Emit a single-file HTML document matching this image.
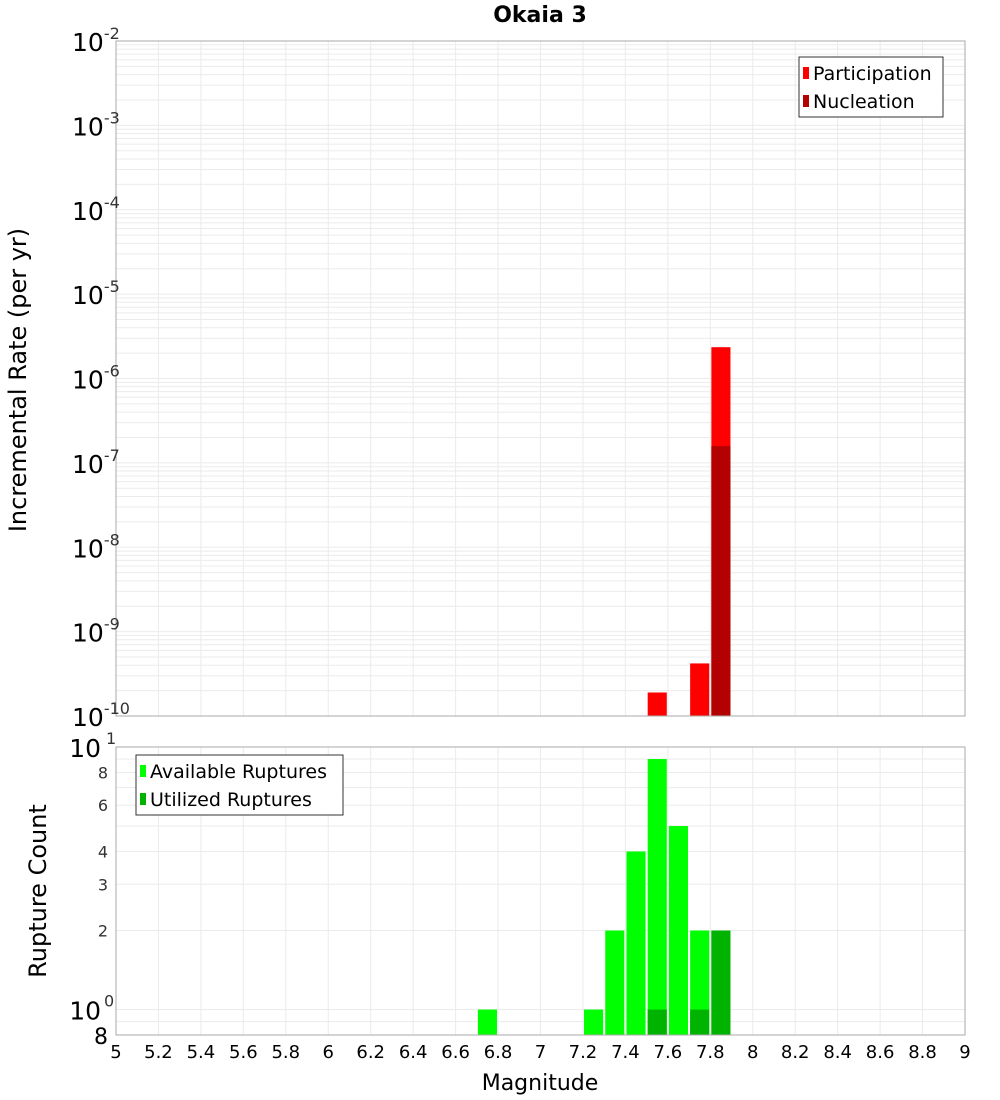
<!DOCTYPE html>
<html><head><meta charset="utf-8"><style>
body{margin:0;background:#fff;font-family:"DejaVu Sans","Liberation Sans",sans-serif}
svg{display:block}
</style></head><body>
<svg id="c" width="1000" height="1100" xmlns="http://www.w3.org/2000/svg"></svg>
<script>
const mags=[6.75,7.25,7.35,7.45,7.55,7.65,7.75,7.85];
const partMags=[7.55,7.75,7.85];
const partVals=[1.9e-10,4.2e-10,2.35e-6];
const nuclMags=[7.85];
const nuclVals=[1.58e-7];
const availVals=[1,1,2,4,9,5,2,2];
const utilMags=[7.55,7.75,7.85];
const utilVals=[1,1,2];
const xTicks=[5,5.2,5.4,5.6,5.8,6,6.2,6.4,6.6,6.8,7,7.2,7.4,7.6,7.8,8,8.2,8.4,8.6,8.8,9];
const topDecades=[-10,-9,-8,-7,-6,-5,-4,-3,-2];
const botMinorLabels=[2,3,4,6,8];

const S=document.getElementById('c');const NS='http://www.w3.org/2000/svg';
function el(t,a,p){const e=document.createElementNS(NS,t);for(const k in a)e.setAttribute(k,a[k]);(p||S).appendChild(e);return e;}
const X0=116,X1=965;
const x=m=>X0+(m-5)/4*(X1-X0);
const T0=41,T1=716;const ty=v=>T0+(-2-Math.log10(v))*(T1-T0)/8;
const B0=747,B1=1035;const by=v=>B0+(1-Math.log10(v))*(B1-B0)/(1-Math.log10(0.8));
const BW=0.09;
const gtop=el('g',{});
const gbot=el('g',{});
xTicks.forEach(t=>{el('line',{x1:x(t),x2:x(t),y1:T0,y2:T1,stroke:'#ebebeb'},gtop);el('line',{x1:x(t),x2:x(t),y1:B0,y2:B1,stroke:'#ebebeb'},gbot);});
for(let d=-10;d<-2;d++)for(let k=1;k<10;k++){const yy=ty(k*Math.pow(10,d));el('line',{x1:X0,x2:X1,y1:yy,y2:yy,stroke:'#ebebeb'},gtop);}
[0.9,1,2,3,4,5,6,7,8,9].forEach(v=>{const yy=by(v);el('line',{x1:X0,x2:X1,y1:yy,y2:yy,stroke:'#ebebeb'},gbot);});
function bar(m,v,fill,yf,base,name){const y0=yf(v);const r=el('rect',{x:x(m-BW/2),y:y0,width:x(m+BW/2)-x(m-BW/2),height:base-y0,fill:fill});}
partMags.forEach((m,i)=>bar(m,partVals[i],'#ff0000',ty,T1,'participation-bar'));
nuclMags.forEach((m,i)=>bar(m,nuclVals[i],'#b30000',ty,T1,'nucleation-bar'));
mags.forEach((m,i)=>bar(m,availVals[i],'#00ff00',by,B1,'available-bar'));
utilMags.forEach((m,i)=>bar(m,utilVals[i],'#00b300',by,B1,'utilized-bar'));
el('rect',{x:X0,y:T0,width:X1-X0,height:T1-T0,fill:'none',stroke:'#aaa'});
el('rect',{x:X0,y:B0,width:X1-X0,height:B1-B0,fill:'none',stroke:'#aaa'});
function txt(s,a,name){const t=el('text',a);t.textContent=s;return t;}
topDecades.forEach(d=>{const yy=ty(Math.pow(10,d));const t=txt('10',{x:72,y:yy+10,'font-size':25,fill:'#000'},'y-tick-label');
 const s=el('tspan',{dy:-12,'font-size':16,fill:'#333'},t);s.textContent=String(d);});
txt('10',{x:101,y:by(10)+10,'font-size':25,'text-anchor':'end'},'y-tick-label');
txt('10',{x:101,y:by(1)+10,'font-size':25,'text-anchor':'end'},'y-tick-label');
txt('1',{x:106,y:by(10)-3,'font-size':16,fill:'#333'},'y-tick-exp');
txt('0',{x:104,y:by(1)-3,'font-size':16,fill:'#333'},'y-tick-exp');
botMinorLabels.forEach(v=>txt(String(v),{x:108,y:by(v)+6,'font-size':16,'text-anchor':'end',fill:'#333'},'y-tick-label'));
txt('8',{x:108,y:B1+9,'font-size':22,'text-anchor':'end'},'y-tick-label');
xTicks.forEach(t=>txt(String(t),{x:x(t),y:1058,'font-size':18,'text-anchor':'middle'},'x-tick-label'));
txt('Magnitude',{x:540,y:1090,'font-size':22,'text-anchor':'middle'},'x-axis-title');
txt('Okaia 3',{x:540,y:22,'font-size':22,'font-weight':'bold','text-anchor':'middle'},'chart-title');
txt('Incremental Rate (per yr)',{x:0,y:0,'font-size':24,'text-anchor':'middle',transform:'translate(26,380) rotate(-90)'},'top-y-axis-title');
txt('Rupture Count',{x:0,y:0,'font-size':24,'text-anchor':'middle',transform:'translate(46,891) rotate(-90)'},'bottom-y-axis-title');
function legend(x0,y0,w,items,name){const g=el('g',{});
 el('rect',{x:x0,y:y0,width:w,height:60,fill:'#fff',stroke:'#333'},g);
 items.forEach(([lab,c],i)=>{el('rect',{x:x0+4,y:y0+10+i*28,width:6,height:12,fill:c},g);const t=el('text',{x:x0+14,y:y0+23+i*28,'font-size':19},g);t.textContent=lab;});}
legend(799,57,144,[['Participation','#ff0000'],['Nucleation','#b30000']],'top-legend');
legend(136,755,207,[['Available Ruptures','#00ff00'],['Utilized Ruptures','#00b300']],'bottom-legend');
</script>
</body></html>
